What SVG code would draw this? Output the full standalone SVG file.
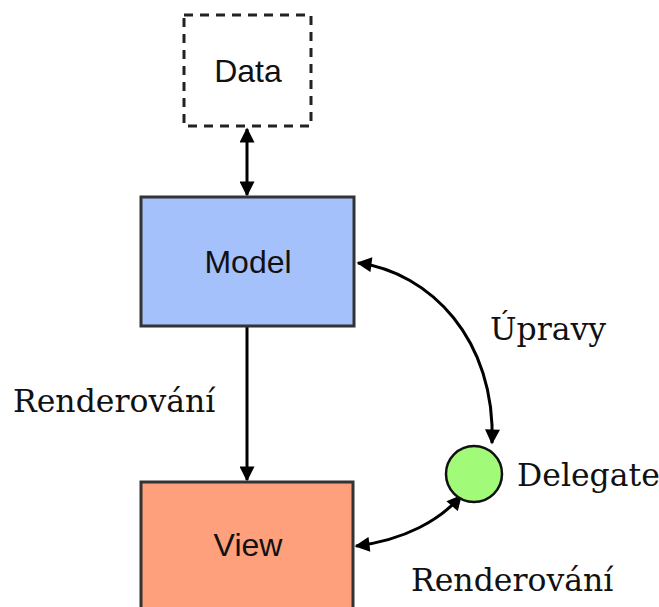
<svg xmlns="http://www.w3.org/2000/svg" width="659" height="607" viewBox="0 0 659 607">
<defs>
<style>
.box{stroke:#333;stroke-width:3}
.sans{font-family:"Liberation Sans",Arial,sans-serif;font-size:32px;fill:#111;text-anchor:middle}
.serif{font-family:"DejaVu Serif","Liberation Serif",serif;font-size:31.5px;fill:#111}
.conn{fill:none;stroke:#000;stroke-width:3}
</style>
<marker id="ah" viewBox="0 0 10 10" refX="9" refY="5" markerWidth="5.5" markerHeight="5" orient="auto-start-reverse" markerUnits="strokeWidth">
<path d="M0,0 L10,5 L0,10 z" fill="#000"/>
</marker>
</defs>
<rect width="659" height="607" fill="#fff"/>
<g id="connectors">
<line class="conn" x1="247" y1="129" x2="247" y2="195" marker-start="url(#ah)" marker-end="url(#ah)"/>
<line class="conn" x1="247" y1="327" x2="247" y2="480" marker-end="url(#ah)"/>
<path class="conn" d="M358,263 C430,272 496,340 492,443" marker-start="url(#ah)" marker-end="url(#ah)"/>
<path class="conn" d="M356,546 C405,540 440,520 461,496" marker-start="url(#ah)" marker-end="url(#ah)"/>
</g>
<g id="data">
<rect x="184" y="15" width="127" height="111" fill="#fff" stroke="#222" stroke-width="3" stroke-dasharray="9,7"/>
<text class="sans" x="248" y="82">Data</text>
</g>
<g id="model">
<rect class="box" x="141" y="197" width="213" height="129" fill="#a4c1fc"/>
<text class="sans" x="248" y="273">Model</text>
</g>
<g id="view">
<rect class="box" x="141" y="482" width="212" height="140" fill="#fea07b"/>
<text class="sans" x="248" y="556">View</text>
</g>
<g id="delegate">
<circle cx="474" cy="474" r="28" fill="#a1fb78" stroke="#111" stroke-width="2.5"/>
<text class="serif" x="517" y="486">Delegate</text>
</g>
<text class="serif" x="13" y="412">Renderování</text>
<text class="serif" x="490" y="340">Úpravy</text>
<text class="serif" x="411" y="591">Renderování</text>
</svg>
